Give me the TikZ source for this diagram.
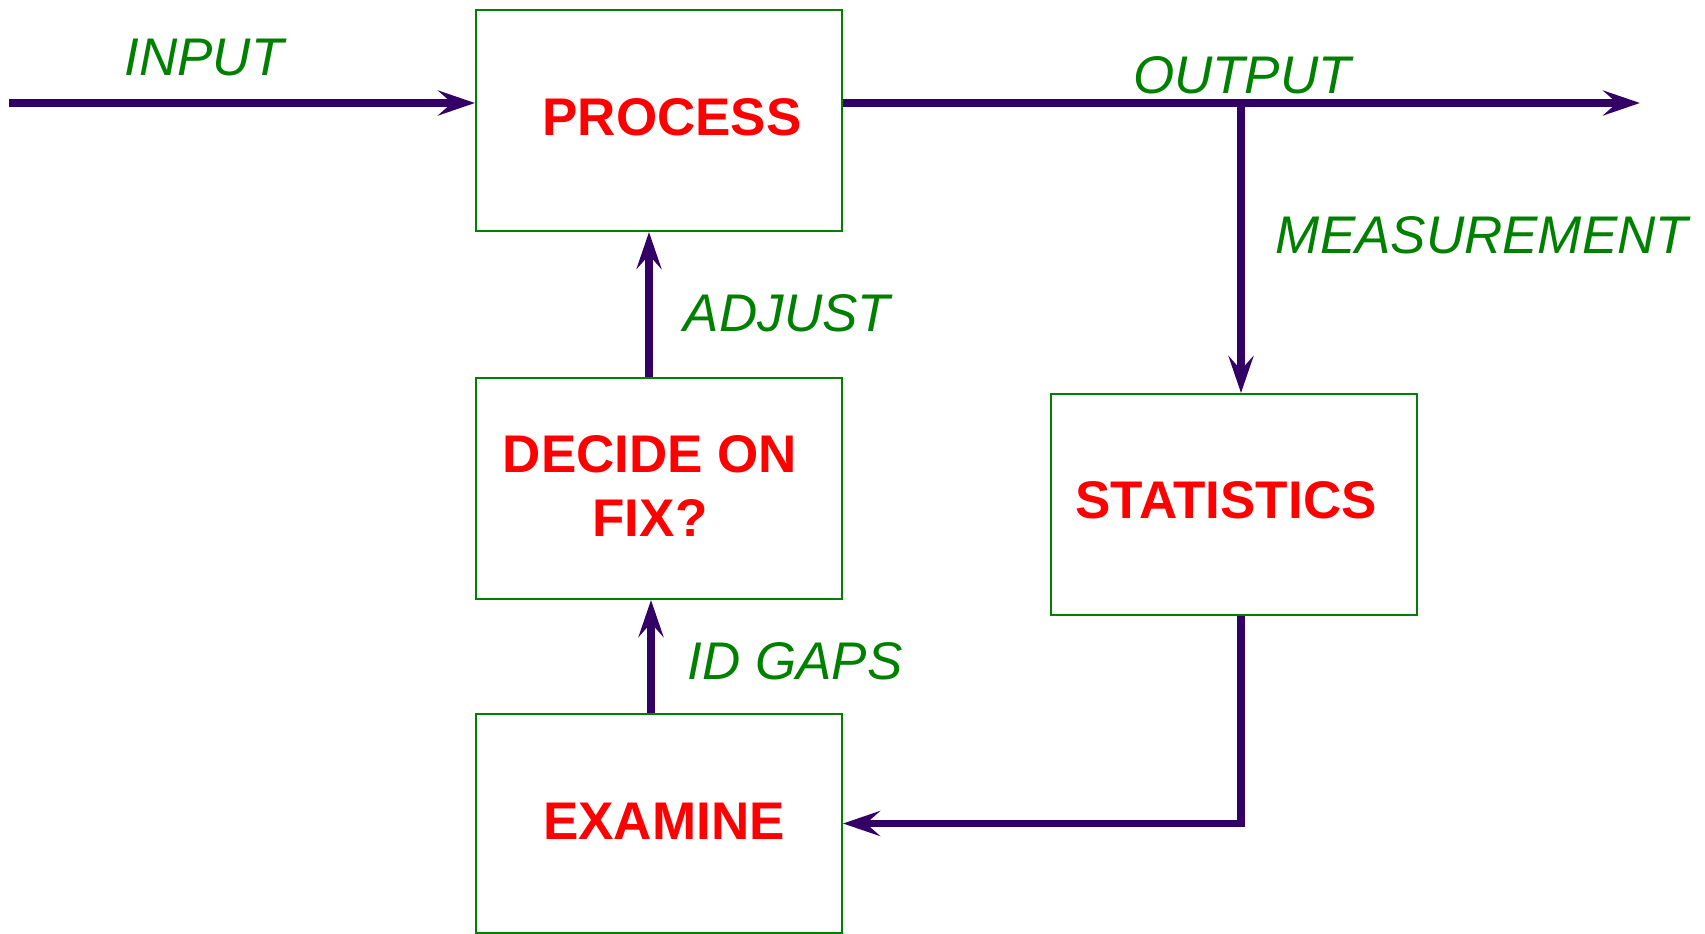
\documentclass[tikz,border=0pt]{standalone}
\usepackage{fontspec}
\setmainfont{Liberation Sans}
\usetikzlibrary{arrows.meta}
\definecolor{flowline}{RGB}{51,0,102}
\definecolor{boxgreen}{RGB}{0,128,0}
\definecolor{textred}{RGB}{255,0,0}
\begin{document}
\begin{tikzpicture}[x=1pt,y=-1pt,
  stagebox/.style={draw=boxgreen, line width=2pt, minimum width=366pt,
    minimum height=221pt, inner sep=0pt, anchor=north west},
  stagetext/.style={text=textred, inner sep=0pt, align=center,
    font=\bfseries\fontsize{53}{64}\selectfont},
  flowlabel/.style={text=boxgreen, inner sep=0pt,
    font=\itshape\fontsize{53}{64}\selectfont},
  flow/.style={draw=flowline, line width=7.5pt,
    -{Stealth[length=37pt,width=25pt,inset=14pt]}}]
\useasboundingbox (0,0) rectangle (1705,934);

% stage boxes
\node[stagebox] (process) at (475,9) {};
\node[stagebox] (decide) at (475,377) {};
\node[stagebox, minimum height=219pt] (examine) at (475,713) {};
\node[stagebox] (stats) at (1050,393) {};

% stage names
\node[stagetext] (processtxt) at (672,117) {PROCESS};
\node[stagetext] (decidetxt) at (650,486) {DECIDE ON\\FIX?};
\node[stagetext] (examinetxt) at (664,821) {EXAMINE};
\node[stagetext] (statstxt) at (1226,500) {STATISTICS};

% connection points
\coordinate (in) at (9,103);
\coordinate (out) at (1640,103);
\coordinate (tap) at (1241,103);
\coordinate (adj) at (649,0);
\coordinate (gap) at (651,0);

% flows
\draw[flow] (in) -- (in -| process.west);
\draw[flow] (in -| process.east) -- (out);
\draw[flow] (tap) -- (tap |- stats.north);
\draw[flow] (adj |- decide.north) -- (adj |- process.south);
\draw[flow] (gap |- examine.north) -- (gap |- decide.south);
\draw[flow] (tap |- stats.south) |- (examine.east);

% flow labels
\node[flowlabel] (inputlbl) at (204,58) {INPUT};
\node[flowlabel] (outputlbl) at (1242,75) {OUTPUT};
\node[flowlabel] (measlbl) at (1482,235) {MEASUREMENT};
\node[flowlabel] (adjlbl) at (787,313) {ADJUST};
\node[flowlabel] (gaplbl) at (795,661) {ID GAPS};
\end{tikzpicture}
\end{document}
